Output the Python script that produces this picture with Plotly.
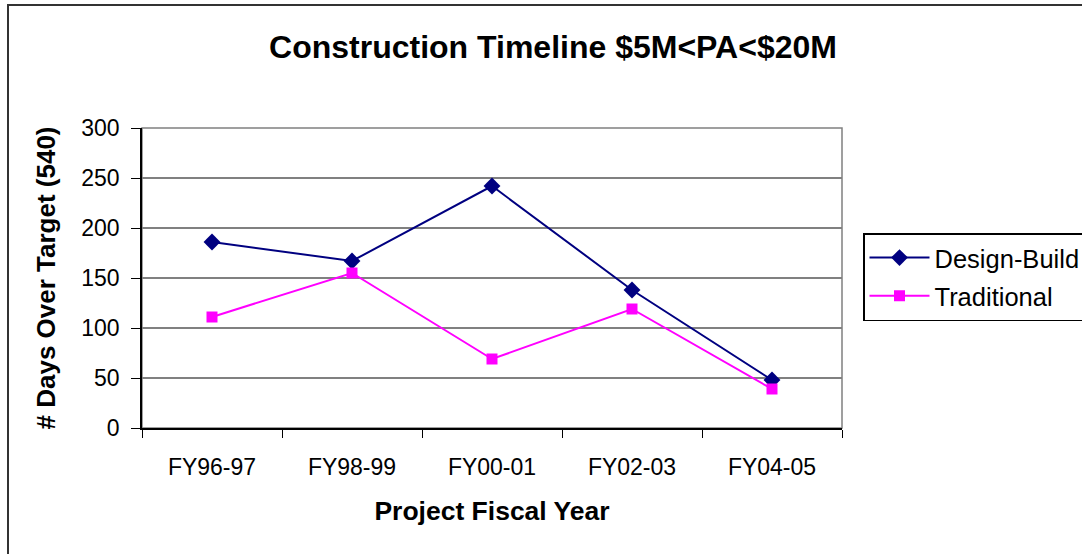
import plotly.graph_objects as go

# data
years = ['FY96-97', 'FY98-99', 'FY00-01', 'FY02-03', 'FY04-05']
design_build = [186, 167, 242, 138, 48]
traditional = [111, 155, 69, 119, 39]

font_family = 'Arial, Liberation Sans, sans-serif'

W, H = 1082, 554
left, top, pw, ph = 142, 128, 700, 300

fig = go.Figure()

fig.add_trace(go.Scatter(
    x=years, y=design_build, name='Design-Build', mode='lines+markers',
    line=dict(color='#000080', width=2),
    marker=dict(symbol='diamond', size=13, color='#000080'),
    legendgroup='db'
))
fig.add_trace(go.Scatter(
    x=years, y=traditional, name='Traditional', mode='lines+markers',
    line=dict(color='#FF00FF', width=2),
    marker=dict(symbol='square', size=11, color='#FF00FF'),
    legendgroup='tr'
))

# plot area border (grey) and the outer chart frame (runs off right/bottom)
fig.add_shape(type='rect', xref='paper', yref='paper', x0=0, x1=1, y0=0, y1=1,
              line=dict(color='#808080', width=1.5), layer='below')
fig.add_shape(type='rect', xref='paper', yref='paper',
              x0=(8 - left) / pw, x1=(W + 20 - left) / pw,
              y0=-(H + 20 - top - ph) / ph, y1=1 + (top - 5) / ph,
              line=dict(color='#333333', width=2), layer='below')

fig.update_layout(
    width=W, height=H,
    margin=dict(l=left, r=W - left - pw, t=top, b=H - top - ph),
    paper_bgcolor='white', plot_bgcolor='white',
    font=dict(family=font_family, color='black'),
    title=dict(text='<b>Construction Timeline $5M<PA<$20M</b>',
               font=dict(size=32, color='black'),
               xref='container', x=553 / W, xanchor='center',
               yref='container', y=1 - 47 / H, yanchor='middle'),
    legend=dict(xref='container', yref='container',
                x=863 / W, xanchor='left',
                y=1 - 233 / H, yanchor='top',
                bordercolor='black', borderwidth=1.5, bgcolor='white',
                font=dict(size=25.5), itemwidth=60, tracegroupgap=2,
                traceorder='grouped'),
    showlegend=True,
)

fig.update_xaxes(
    type='category', range=[-0.5, 4.5],
    showline=True, linecolor='black', linewidth=1.5,
    ticks='outside', tickson='boundaries', ticklen=8, tickcolor='black',
    tickfont=dict(size=23), ticklabelstandoff=18,
    showgrid=False, zeroline=False,
    title=dict(text='<b>Project Fiscal Year</b>', font=dict(size=26.5), standoff=22),
)
fig.update_yaxes(
    range=[0, 300], dtick=50,
    showline=True, linecolor='black', linewidth=1.5,
    ticks='outside', ticklen=9, tickcolor='black',
    tickfont=dict(size=23), ticklabelstandoff=7,
    showgrid=True, gridcolor='#808080', gridwidth=1.5,
    zeroline=False,
    title=dict(text='<b># Days Over Target (540)</b>', font=dict(size=26), standoff=18),
)

# drop the page's default body margin so the figure fills the window
fig.write_html('out.html', config={'displayModeBar': False},
               post_script="document.body.style.margin='0';document.body.style.overflow='hidden';")
